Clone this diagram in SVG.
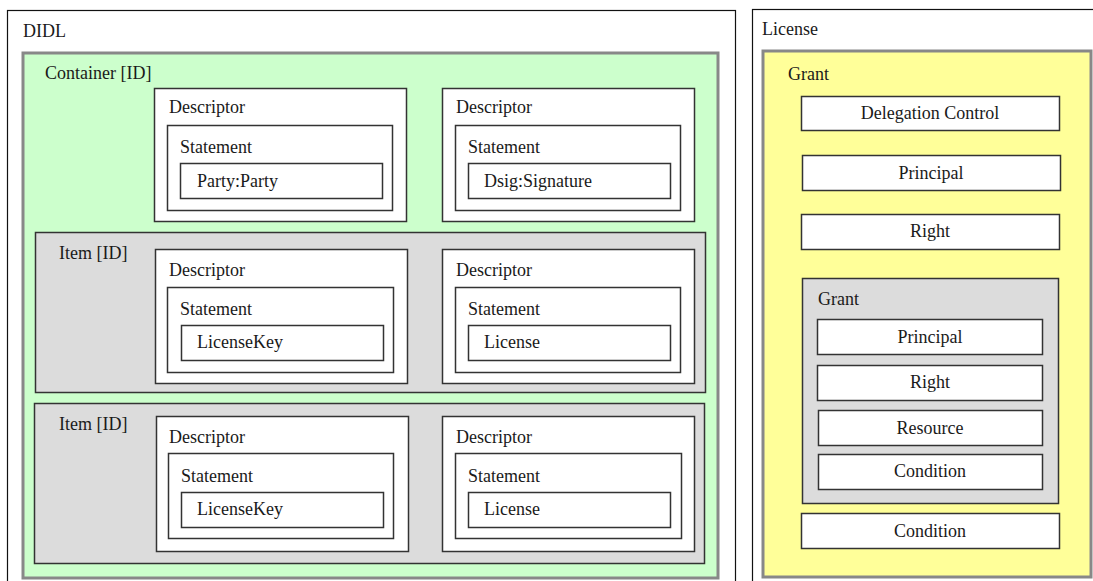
<svg xmlns="http://www.w3.org/2000/svg" width="1093" height="581" viewBox="0 0 1093 581">
<style>
text{font-family:"Liberation Serif","DejaVu Serif",serif;font-size:18px;fill:#1a1a1a}
.c{text-anchor:middle}
.outer{fill:#fff;stroke:#111;stroke-width:1.2}
.green{fill:#ccffcc;stroke:#888;stroke-width:3}
.yellow{fill:#ffff99;stroke:#888;stroke-width:3}
.item{fill:#dcdcdc;stroke:#333;stroke-width:1.5}
.box{fill:#fff;stroke:#333;stroke-width:1.5}
</style>
<rect width="1093" height="581" fill="#fff"/>
<g id="didl">
<rect class="outer" x="7.5" y="10.5" width="728" height="590"/>
<text x="23" y="37">DIDL</text>
</g>
<g id="container">
<rect class="green" x="23" y="53" width="695" height="525"/>
<text x="45" y="79">Container [ID]</text>
</g>
<g id="c-desc1">
<rect class="box" x="154.5" y="88.5" width="252" height="133"/>
<text x="169" y="113">Descriptor</text>
<rect class="box" x="167.5" y="125.5" width="225" height="85"/>
<text x="180" y="153">Statement</text>
<rect class="box" x="180.5" y="163.5" width="202" height="35"/>
<text x="197" y="187">Party:Party</text>
</g>
<g id="c-desc2">
<rect class="box" x="442.5" y="88.5" width="252" height="133"/>
<text x="456" y="113">Descriptor</text>
<rect class="box" x="455.5" y="125.5" width="225" height="85"/>
<text x="468" y="153">Statement</text>
<rect class="box" x="468.5" y="163.5" width="202" height="35"/>
<text x="484" y="187">Dsig:Signature</text>
</g>
<g id="item1">
<rect class="item" x="35.5" y="232.5" width="670" height="160"/>
<text x="59" y="259">Item [ID]</text>
<rect class="box" x="155.5" y="249.5" width="252" height="134"/>
<text x="169" y="276">Descriptor</text>
<rect class="box" x="167.5" y="287.5" width="226" height="85"/>
<text x="180" y="315">Statement</text>
<rect class="box" x="181.5" y="325.5" width="202" height="35"/>
<text x="197" y="348">LicenseKey</text>
<rect class="box" x="442.5" y="249.5" width="252" height="134"/>
<text x="456" y="276">Descriptor</text>
<rect class="box" x="455.5" y="287.5" width="225" height="85"/>
<text x="468" y="315">Statement</text>
<rect class="box" x="468.5" y="325.5" width="202" height="35"/>
<text x="484" y="348">License</text>
</g>
<g id="item2">
<rect class="item" x="34.5" y="403.5" width="670" height="160"/>
<text x="59" y="430">Item [ID]</text>
<rect class="box" x="156.5" y="416.5" width="252" height="135"/>
<text x="169" y="443">Descriptor</text>
<rect class="box" x="168.5" y="453.5" width="225" height="85"/>
<text x="181" y="482">Statement</text>
<rect class="box" x="181.5" y="492.5" width="202" height="35"/>
<text x="197" y="515">LicenseKey</text>
<rect class="box" x="442.5" y="416.5" width="252" height="135"/>
<text x="456" y="443">Descriptor</text>
<rect class="box" x="455.5" y="453.5" width="226" height="85"/>
<text x="468" y="482">Statement</text>
<rect class="box" x="468.5" y="492.5" width="202" height="35"/>
<text x="484" y="515">License</text>
</g>
<g id="license">
<rect class="outer" x="752.5" y="9.5" width="400" height="600"/>
<text x="762" y="35">License</text>
</g>
<g id="grant">
<rect class="yellow" x="763" y="51" width="328" height="526"/>
<text x="788" y="80">Grant</text>
</g>
<g id="delegation">
<rect class="box" x="801.5" y="96.5" width="258" height="34"/>
<text class="c" x="930" y="119">Delegation Control</text>
</g>
<g id="principal">
<rect class="box" x="802.5" y="155.5" width="258" height="35"/>
<text class="c" x="931" y="179">Principal</text>
</g>
<g id="right">
<rect class="box" x="801.5" y="214.5" width="258" height="35"/>
<text class="c" x="930" y="237">Right</text>
</g>
<g id="inner-grant">
<rect class="item" x="802.5" y="278.5" width="256" height="225"/>
<text x="818" y="305">Grant</text>
<rect class="box" x="817.5" y="319.5" width="225" height="35"/>
<text class="c" x="930" y="343">Principal</text>
<rect class="box" x="817.5" y="365.5" width="225" height="35"/>
<text class="c" x="930" y="388">Right</text>
<rect class="box" x="818.5" y="410.5" width="224" height="35"/>
<text class="c" x="930" y="434">Resource</text>
<rect class="box" x="818.5" y="454.5" width="224" height="35"/>
<text class="c" x="930" y="477">Condition</text>
</g>
<g id="condition">
<rect class="box" x="801.5" y="513.5" width="258" height="35"/>
<text class="c" x="930" y="537">Condition</text>
</g>
<g id="connectors"></g>
</svg>
